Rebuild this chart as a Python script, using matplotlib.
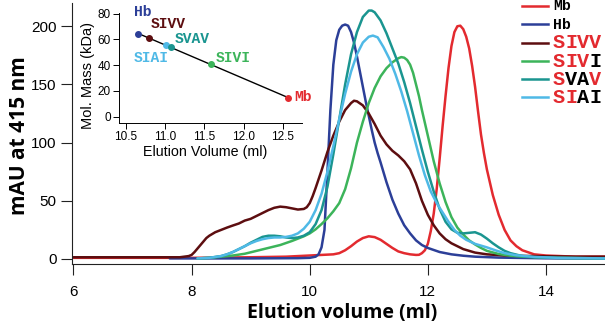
import matplotlib.pyplot as plt
from matplotlib.lines import Line2D
import numpy as np

# ---- chromatogram traces (elution volume in ml, absorbance in mAU) ----
mb_x = [6.0, 7.0, 8.0, 9.0, 9.6, 10.0, 10.2, 10.4, 10.5, 10.6, 10.7, 10.8, 10.9,
        11.0, 11.1, 11.2, 11.3, 11.4, 11.5, 11.6, 11.7, 11.8, 11.85, 11.9, 11.95,
        12.0, 12.05, 12.1, 12.15, 12.2, 12.25, 12.3, 12.35, 12.4, 12.45, 12.5,
        12.55, 12.6, 12.65, 12.7, 12.75, 12.8, 12.85, 12.9, 12.95, 13.0, 13.1,
        13.2, 13.3, 13.4, 13.5, 13.6, 13.8, 14.0, 14.5, 15.0]
mb_y = [1, 1, 1, 1.5, 2, 3, 3.5, 4, 5, 7.5, 11, 15, 18,
        19.5, 18.8, 16.5, 13, 9.5, 6.5, 5, 4, 3.5, 3.6, 5, 7.5,
        13, 24, 39, 60, 86, 114, 140, 164, 183, 195, 200,
        200.5, 197.5, 191, 181, 166, 148, 127, 107, 91, 77, 55,
        38, 25, 16, 11, 7.5, 4, 3, 2, 2]

hb_x = [7.63, 8.0, 9.0, 9.8, 10.0, 10.1, 10.15, 10.2, 10.25, 10.3, 10.35, 10.4,
        10.45, 10.5, 10.55, 10.6, 10.65, 10.7, 10.75, 10.8, 10.85, 10.9, 10.95,
        11.0, 11.05, 11.1, 11.15, 11.2, 11.3, 11.4, 11.5, 11.6, 11.7, 11.8, 11.9,
        12.0, 12.2, 12.4, 12.6, 12.8, 13.2, 14.0, 15.0]
hb_y = [0.5, 0.5, 0.5, 0.7, 1, 2, 4, 10, 25, 75, 128, 167,
        188, 197, 200.5, 201.5, 200.5, 195, 186, 174, 161, 148, 135,
        123, 111, 100, 91, 83, 66, 51, 39, 29, 22, 16, 12,
        9.5, 6, 4, 2.8, 2, 1.2, 0.6, 0.5]

sivv_x = [6.0, 7.0, 7.8, 7.95, 8.0, 8.05, 8.1, 8.15, 8.2, 8.25, 8.3, 8.4, 8.5,
          8.6, 8.7, 8.8, 8.9, 9.0, 9.1, 9.2, 9.3, 9.4, 9.5, 9.6, 9.7, 9.8, 9.9,
          9.95, 10.0, 10.05, 10.1, 10.2, 10.3, 10.4, 10.5, 10.6, 10.7, 10.75,
          10.8, 10.9, 11.0, 11.1, 11.2, 11.3, 11.4, 11.5, 11.6, 11.7, 11.8, 11.9,
          12.0, 12.1, 12.2, 12.3, 12.4, 12.6, 12.8, 13.0, 13.3, 13.8, 14.5, 15.0]
sivv_y = [1.5, 1.5, 1.5, 2.5, 3.5, 6, 9, 12, 15, 18, 20, 23, 25,
          27, 28.8, 30.5, 33, 34.5, 37, 39.5, 42, 44, 45, 44.5, 43.5, 42.5, 43,
          44.5, 48, 54, 61, 76, 92, 106, 118, 128, 134, 136,
          135.5, 132, 125, 116, 106, 98.5, 93, 89, 84, 77, 65, 50,
          38, 29, 22, 17, 13.5, 8.5, 5.5, 4, 3, 2.5, 2, 2]

sivi_x = [8.1, 8.3, 8.5, 8.7, 8.9, 9.1, 9.3, 9.5, 9.7, 9.9, 10.0, 10.1, 10.2,
          10.3, 10.4, 10.5, 10.6, 10.7, 10.8, 10.9, 11.0, 11.1, 11.2, 11.3, 11.4,
          11.5, 11.55, 11.6, 11.65, 11.7, 11.75, 11.8, 11.85, 11.9, 12.0, 12.1,
          12.2, 12.3, 12.4, 12.5, 12.6, 12.7, 12.8, 12.9, 13.0, 13.2, 13.4, 13.6,
          14.0, 15.0]
sivi_y = [0.5, 1, 2, 3, 4.5, 7, 9.5, 12, 15.5, 19.5, 22, 25.5, 30,
          35, 41, 48, 60, 78, 100, 118, 134, 147, 157, 164, 169,
          172.5, 173.5, 173, 171, 167, 160, 150, 140, 128, 106, 84,
          65, 49, 36, 27, 21, 16, 12.5, 9.5, 7, 4.3, 2.8, 2,
          1.2, 0.5]

svav_x = [8.1, 8.3, 8.5, 8.6, 8.7, 8.8, 8.9, 9.0, 9.1, 9.2, 9.3, 9.4, 9.5, 9.6,
          9.7, 9.8, 9.9, 10.0, 10.1, 10.2, 10.3, 10.4, 10.5, 10.6, 10.7, 10.8,
          10.9, 11.0, 11.05, 11.1, 11.2, 11.3, 11.4, 11.5, 11.6, 11.7, 11.8, 11.9,
          12.0, 12.1, 12.2, 12.3, 12.4, 12.5, 12.6, 12.7, 12.8, 12.9, 13.0, 13.1,
          13.2, 13.3, 13.4, 13.6, 13.8, 14.2, 15.0]
svav_y = [0.5, 1, 2.5, 4, 6, 8.5, 11, 14, 16.5, 19, 20, 20, 19.5, 18.5,
          18, 18.5, 20, 23, 30, 42, 62, 90, 120, 150, 176, 195,
          208, 213.5, 213.5, 212, 205, 194, 181, 168, 152, 134, 114, 94,
          75, 58, 43, 32, 25.5, 22.5, 22, 22.5, 23, 21, 17.5, 13.5,
          10, 7, 5, 2.5, 1.5, 0.8, 0.5]

siai_x = [8.1, 8.3, 8.5, 8.6, 8.7, 8.8, 8.9, 9.0, 9.1, 9.2, 9.3, 9.4, 9.5, 9.6,
          9.7, 9.8, 9.9, 10.0, 10.1, 10.2, 10.3, 10.4, 10.5, 10.6, 10.7, 10.8,
          10.9, 11.0, 11.07, 11.15, 11.25, 11.35, 11.45, 11.55, 11.65, 11.75,
          11.85, 11.95, 12.05, 12.15, 12.25, 12.35, 12.45, 12.55, 12.65, 12.8,
          12.9, 13.0, 13.16, 13.3, 13.5, 13.8, 14.2, 15.0]
siai_y = [0.5, 1, 2.5, 4, 6, 8.5, 11, 13.5, 15.5, 17, 18, 18.5, 18.5, 19,
          20, 22, 26, 32, 42, 56, 75, 97, 120, 142, 161, 176,
          186, 191, 192, 190.5, 182, 172, 159, 144, 127, 108,
          89, 72, 58, 48, 40, 32, 25, 20, 16.5, 13,
          11.5, 10, 7.2, 5, 3.2, 1.8, 1, 0.5]

# ---- inset: calibration of molecular mass vs elution volume ----
inset_names = ["Hb", "SIVV", "SIAI", "SVAV", "SIVI", "Mb"]
inset_volume = [10.66, 10.80, 11.01, 11.07, 11.58, 12.57]
inset_mass = [64.3, 61.0, 55.3, 54.0, 40.6, 14.7]
# label offsets from each point, in pixels (right, up)
inset_offsets = [(4, 22), (19, 14), (-15, -13), (22, 8), (23, 6), (15, 1)]

legend_labels = ["Mb", "Hb", "SIVV", "SIVI", "SVAV", "SIAI"]
# which letters of each legend label are red
legend_red = ["", "", "1111", "1110", "1001", "1100"]

colors = {
    "Mb": "#e32a2f",
    "Hb": "#2c3f98",
    "SIVV": "#5d0e10",
    "SIVI": "#3cb45a",
    "SVAV": "#1a9590",
    "SIAI": "#4fb9e6",
}
RED = "#e32a2f"

W, H = 605, 325
SANS = ["Liberation Sans", "DejaVu Sans"]
BOLD = ["Open Sans", "DejaVu Sans"]
MONO = ["Liberation Mono", "DejaVu Sans Mono"]

fig = plt.figure(figsize=(W / 100, H / 100), dpi=100)

# main chromatogram
ax = fig.add_axes([72 / W, 1 - 264 / H, (W - 72) / W, 261 / H])
traces = [("Mb", mb_x, mb_y), ("Hb", hb_x, hb_y), ("SIVV", sivv_x, sivv_y),
          ("SIVI", sivi_x, sivi_y), ("SVAV", svav_x, svav_y),
          ("SIAI", siai_x, siai_y)]
for name, xs, ys in traces:
    ax.plot(xs, ys, color=colors[name], lw=1.8, solid_capstyle="round")

ax.set_xlim(5.975, 15.0)
ax.set_ylim(-4.3, 220)
ax.set_xticks([6, 8, 10, 12, 14])
ax.set_yticks([0, 50, 100, 150, 200])
for s in ["top", "right"]:
    ax.spines[s].set_visible(False)
for s in ["left", "bottom"]:
    ax.spines[s].set_linewidth(0.8)
    ax.spines[s].set_color("#222222")
ax.tick_params(axis="both", direction="out", length=8, width=0.8,
               color="#222222", labelsize=11)
ax.tick_params(axis="x", pad=7)
ax.tick_params(axis="y", pad=3)
for lab in ax.get_xticklabels() + ax.get_yticklabels():
    lab.set_family(SANS)
ax.set_xlabel("Elution volume (ml)", family=BOLD, fontweight="bold",
              fontsize=14, va="center")
ax.xaxis.set_label_coords(0.507, -0.188)
ax.set_ylabel("mAU at 415 nm", family=BOLD, fontweight="bold",
              fontsize=15, va="center")
ax.yaxis.set_label_coords(-0.0976, 0.49)

# inset
ins = fig.add_axes([119.3 / W, 1 - 122.7 / H, 182.4 / W, 109.8 / H])
ins.patch.set_alpha(0)
fit = np.polyfit(inset_volume, inset_mass, 1)
fx = np.array([min(inset_volume), max(inset_volume)])
ins.plot(fx, np.polyval(fit, fx), color="black", lw=1.0, zorder=1)
for name, vx, my, (dx, dy) in zip(inset_names, inset_volume, inset_mass,
                                  inset_offsets):
    ins.plot(vx, my, "o", color=colors[name], ms=4, zorder=2)
    ins.annotate(name, (vx, my), xytext=(dx * 0.72, dy * 0.72),
                 textcoords="offset points", ha="center", va="center",
                 color=colors[name], family=MONO, fontweight="bold",
                 fontsize=10.5)
ins.set_xlim(10.418, 12.74)
ins.set_ylim(-4.65, 80.5)
ins.set_xticks([10.5, 11.0, 11.5, 12.0, 12.5])
ins.set_xticklabels(["10.5", "11.0", "11.5", "12.0", "12.5"])
ins.set_yticks([0, 20, 40, 60, 80])
for s in ["top", "right"]:
    ins.spines[s].set_visible(False)
for s in ["left", "bottom"]:
    ins.spines[s].set_linewidth(0.7)
ins.tick_params(axis="both", direction="out", length=4, width=0.7,
                labelsize=8.5, pad=2)
for lab in ins.get_xticklabels() + ins.get_yticklabels():
    lab.set_family(SANS)
ins.set_xlabel("Elution Volume (ml)", family=SANS, fontsize=10.3, va="center")
ins.xaxis.set_label_coords(0.4726, -0.267)
ins.set_ylabel("Mol. Mass (kDa)", family=SANS, fontsize=10.5, va="center")
ins.yaxis.set_label_coords(-0.172, 0.434)

# legend, drawn by hand so single letters can be coloured
fs_small, fs_big = 10.5, 14.5
for i, (name, reds) in enumerate(zip(legend_labels, legend_red)):
    yc = 6 + 18.25 * i
    fig.add_artist(Line2D([522 / W, 548 / W], [1 - yc / H] * 2,
                          transform=fig.transFigure,
                          color=colors[name], lw=1.8))
    fs = fs_big if reds else fs_small
    cw = 0.6 * fs * 100 / 72
    for j, ch in enumerate(name):
        col = RED if reds and reds[j] == "1" else "black"
        fig.text((553 + j * cw) / W, 1 - (yc + 0.5) / H, ch, color=col,
                 family=MONO, fontweight="bold", fontsize=fs,
                 ha="left", va="center")

fig.savefig("out.png", dpi=100)
